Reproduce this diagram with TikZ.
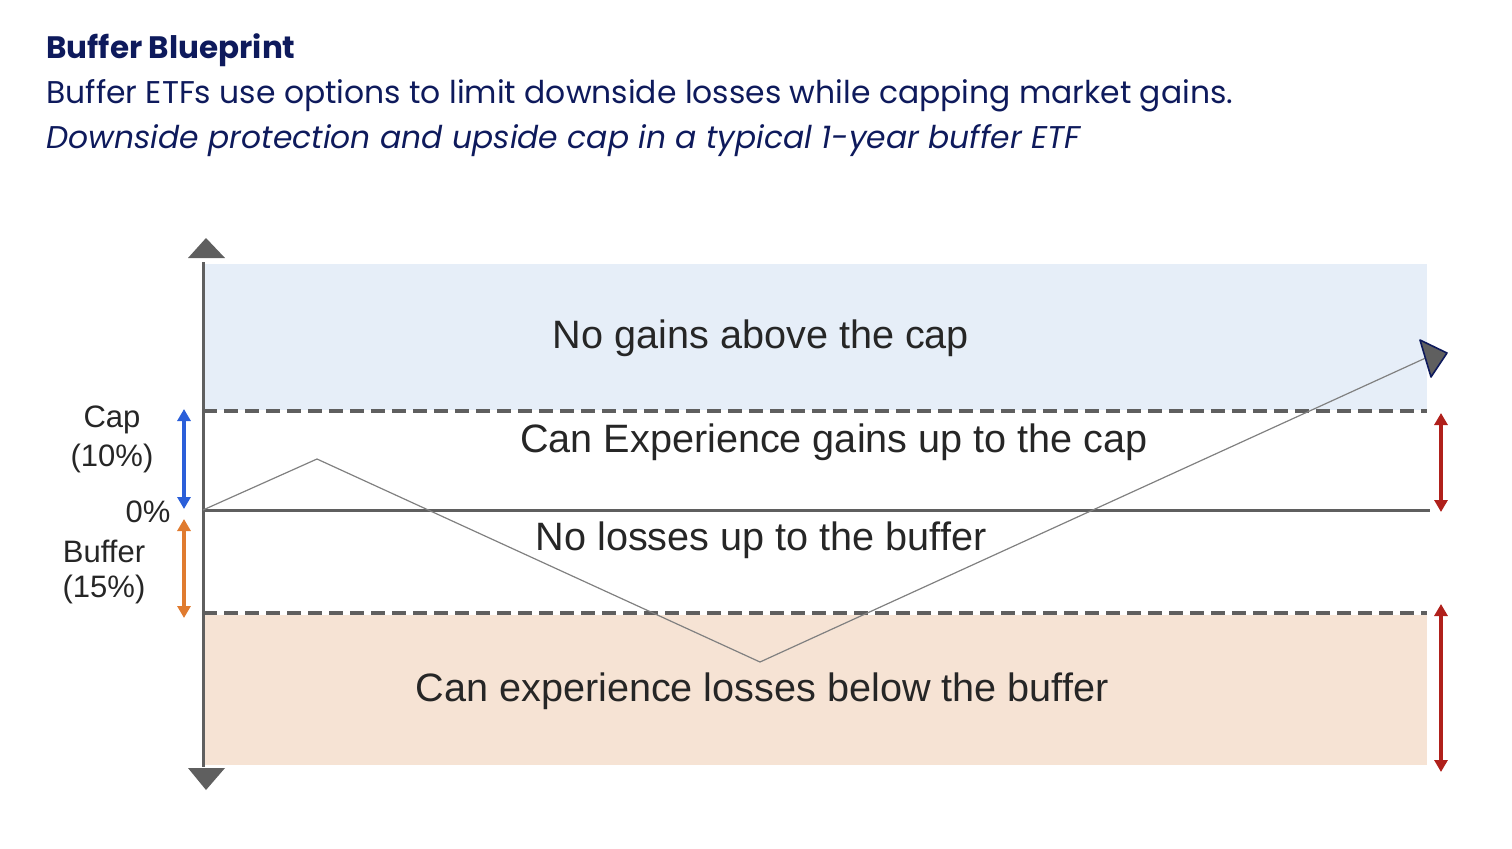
\documentclass[tikz,border=0pt]{standalone}
\usepackage{fontspec}
\setmainfont{Liberation Sans}
\newfontfamily\headfont{Poppins}
\usetikzlibrary{arrows.meta}
\definecolor{navy}{HTML}{0E1A5C}
\definecolor{capblue}{HTML}{E6EEF8}
\definecolor{bufor}{HTML}{F6E3D4}
\definecolor{axisgray}{HTML}{5F5F5F}
\definecolor{bluearr}{HTML}{2B5FD9}
\definecolor{orarr}{HTML}{E07B2F}
\definecolor{redarr}{HTML}{B0201B}
\begin{document}
\begin{tikzpicture}[x=0.5pt,y=-0.5pt,
  lbl/.style={font=\fontsize{19.8}{22}\selectfont,text=black!85,inner sep=0},
  side/.style={font=\fontsize{15.5}{17}\selectfont,text=black!85,inner sep=0},
  hd/.style={anchor=base west,inner sep=0,text=navy},
  dimarr/.style={line width=1.8pt,{Triangle[width=6.5pt,length=6pt]}-{Triangle[width=6.5pt,length=6pt]}},
  dashln/.style={axisgray,line width=1.6pt,dash pattern=on 7pt off 3.5pt}]
\useasboundingbox (0,0) rectangle (1512,848);
\node[hd,font=\headfont\bfseries\fontsize{15.5}{18}\selectfont] (t1) at (46,58) {Buffer Blueprint};
\node[hd,font=\headfont\fontsize{15.7}{18}\selectfont] (t2) at (46,103) {Buffer ETFs use options to limit downside losses while capping market gains.};
\node[hd,font=\headfont\itshape\fontsize{15.7}{18}\selectfont] (t3) at (46,148) {Downside protection and upside cap in a typical 1-year buffer ETF};
% regions
\fill[capblue] (203,264) rectangle (1427,410);
\fill[bufor] (203,615) rectangle (1427,765);
% axis
\coordinate (atop) at (203,262);
\coordinate (abot) at (203,767);
\draw[axisgray,line width=1.5pt] (atop) -- (abot);
\fill[axisgray] (188,258) -- (225,258) -- (206,238) -- cycle;
\fill[axisgray] (188,768) -- (225,768) -- (206,790) -- cycle;
\coordinate (z0) at (203,510); \coordinate (z1) at (1430,510);
\draw[axisgray,line width=1.5pt] (z0) -- (z1);
\coordinate (c0) at (203,411); \coordinate (c1) at (1427,411);
\draw[dashln] (c0) -- (c1);
\coordinate (b0) at (203,613); \coordinate (b1) at (1427,613);
\draw[dashln] (b0) -- (b1);
% path
\coordinate (p1) at (317,459); \coordinate (p2) at (760,662); \coordinate (p3) at (1430,356);
\draw[gray,line width=0.6pt] (z0) -- (p1) -- (p2) -- (p3);
\draw[fill=axisgray,draw=navy,line width=0.8pt,line join=round] (1420,340) -- (1447,353) -- (1431,377) -- cycle;
% labels
\node[lbl] (n1) at (761,338) {No gains above the cap};
\node[lbl] (n2) at (834,442) {Can Experience gains up to the cap};
\node[lbl] (n3) at (761,540) {No losses up to the buffer};
\node[lbl] (n4) at (762,691) {Can experience losses below the buffer};
\node[side] (s1) at (112,420) {Cap};
\node[side] (s2) at (112,458) {(10\%)};
\node[side] (s3) at (148,512) {0\%};
\node[side] (s4) at (104,551) {Buffer};
\node[side] (s5) at (104,589) {(15\%)};
% dimension arrows
\coordinate (ba) at (184,409); \coordinate (bb) at (184,509);
\draw[dimarr,bluearr] (ba) -- (bb);
\coordinate (oa) at (184,519); \coordinate (ob) at (184,618);
\draw[dimarr,orarr] (oa) -- (ob);
\coordinate (ra) at (1441,413); \coordinate (rb) at (1441,512);
\draw[dimarr,redarr] (ra) -- (rb);
\coordinate (rc) at (1441,604); \coordinate (rd) at (1441,772);
\draw[dimarr,redarr] (rc) -- (rd);
\end{tikzpicture}
\end{document}
